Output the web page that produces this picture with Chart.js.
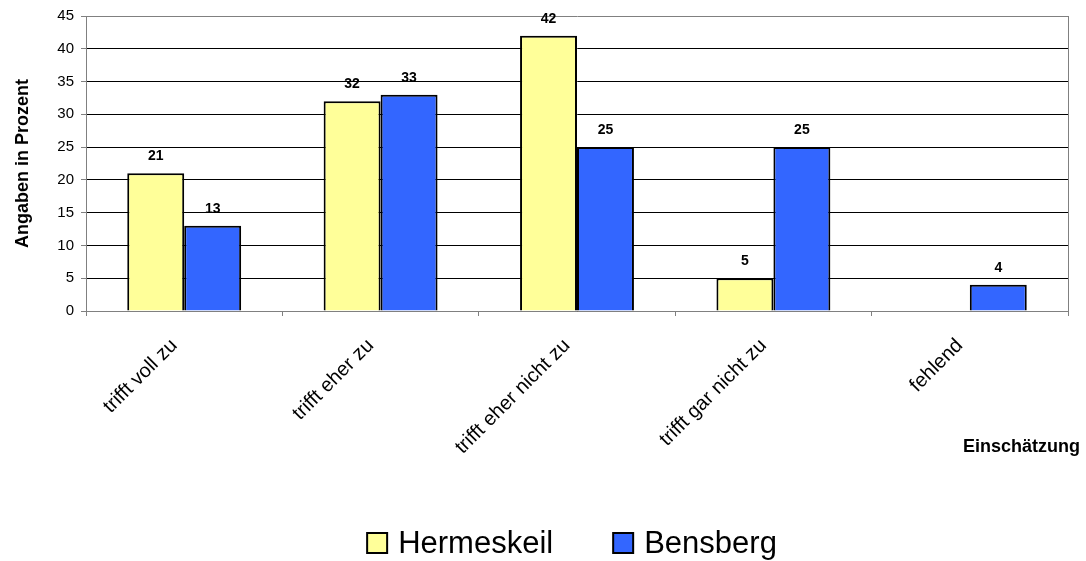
<!DOCTYPE html>
<html>
<head>
<meta charset="utf-8">
<script src="https://cdn.jsdelivr.net/npm/chart.js@4.4.1/dist/chart.umd.min.js"></script>
<style>
  body { margin: 0; background: #fff; }
  #wrap { width: 1086px; height: 561px; }
</style>
</head>
<body>
<div id="wrap"><canvas id="myChart" width="1086" height="561"></canvas></div>
<script>
// answers per category, in percent
const categories = ['trifft voll zu', 'trifft eher zu', 'trifft eher nicht zu', 'trifft gar nicht zu', 'fehlend'];
const hermeskeil = [21, 32, 42, 5, null];
const bensberg = [13, 33, 25, 25, 4];
const yTicks = [0, 5, 10, 15, 20, 25, 30, 35, 40, 45];

const FONT = 'Arial, "Liberation Sans", sans-serif';

// numbers above each bar
const valueLabels = {
  id: 'valueLabels',
  afterDatasetsDraw(chart) {
    const ctx = chart.ctx;
    ctx.save();
    ctx.font = 'bold 14px ' + FONT;
    ctx.fillStyle = '#000';
    ctx.textAlign = 'center';
    ctx.textBaseline = 'middle';
    chart.data.datasets.forEach((ds, i) => {
      chart.getDatasetMeta(i).data.forEach((bar, j) => {
        if (ds.data[j] == null) return;
        ctx.fillText(ds.data[j], bar.x, bar.y - 17);
      });
    });
    ctx.restore();
  }
};

// right frame line, x axis title and the legend row at the bottom
const extras = {
  id: 'extras',
  afterDraw(chart) {
    const ctx = chart.ctx;
    const area = chart.chartArea;
    ctx.save();
    ctx.strokeStyle = '#808080';
    ctx.lineWidth = 1;
    ctx.beginPath();
    ctx.moveTo(Math.round(area.right) + 0.5, area.top);
    ctx.lineTo(Math.round(area.right) + 0.5, area.bottom);
    ctx.stroke();

    ctx.fillStyle = '#000';
    ctx.font = 'bold 18px ' + FONT;
    ctx.textAlign = 'right';
    ctx.textBaseline = 'middle';
    ctx.fillText('Einschätzung', area.right + 12, area.bottom + 136);

    ctx.font = '31px ' + FONT;
    ctx.textAlign = 'left';
    const box = 20, gap = 11, between = 60;
    const items = chart.data.datasets.map(ds => ({
      text: ds.label, color: ds.backgroundColor, w: box + gap + ctx.measureText(ds.label).width
    }));
    const total = items.reduce((s, it) => s + it.w, 0) + between * (items.length - 1);
    let x = (area.left + area.right) / 2 - 5 - total / 2;
    const yMid = chart.height - 18;
    items.forEach(it => {
      ctx.fillStyle = it.color;
      ctx.fillRect(x, yMid - box / 2, box, box);
      ctx.strokeStyle = '#000';
      ctx.lineWidth = 2;
      ctx.strokeRect(x, yMid - box / 2, box, box);
      ctx.fillStyle = '#000';
      ctx.fillText(it.text, x + box + gap, yMid + 1);
      x += it.w + between;
    });
    ctx.restore();
  }
};

function initChart() {
  const ctx = document.getElementById('myChart');
  return new Chart(ctx, {
    type: 'bar',
    data: {
      labels: categories,
      datasets: [{
        label: 'Hermeskeil',
        data: hermeskeil,
        backgroundColor: '#FFFF99',
        borderColor: '#000',
        borderWidth: 2
      }, {
        label: 'Bensberg',
        data: bensberg,
        backgroundColor: '#3366FF',
        borderColor: '#000',
        borderWidth: 2
      }]
    },
    options: {
      responsive: false,
      animation: false,
      devicePixelRatio: 1,
      categoryPercentage: 0.58,
      barPercentage: 1.0,
      layout: { padding: { top: 16, right: 18, left: 0, bottom: 0 } },
      plugins: {
        legend: { display: false },
        tooltip: { enabled: false }
      },
      scales: {
        x: {
          afterFit(scale) { scale.height = 250; },
          grid: {
            offset: true,
            drawOnChartArea: false,
            drawTicks: true,
            tickLength: 5,
            tickColor: '#808080'
          },
          border: { color: '#808080', width: 1 },
          ticks: {
            autoSkip: false,
            minRotation: 45,
            maxRotation: 45,
            padding: 18,
            labelOffset: -10,
            color: '#000',
            font: { family: FONT, size: 20 }
          }
        },
        y: {
          min: yTicks[0],
          max: yTicks[yTicks.length - 1],
          afterFit(scale) { scale.width = 86; },
          afterBuildTicks(scale) { scale.ticks = yTicks.map(v => ({ value: v })); },
          grid: {
            color: c => (c.tick && c.tick.value === yTicks[yTicks.length - 1]) ? '#808080' : '#000',
            tickColor: '#808080',
            tickLength: 5,
            lineWidth: 1
          },
          border: { color: '#808080', width: 1 },
          ticks: {
            padding: 7,
            color: '#000',
            font: { family: FONT, size: 15 }
          },
          title: {
            display: true,
            text: 'Angaben in Prozent',
            color: '#000',
            padding: { top: 12, bottom: 0 },
            font: { family: FONT, size: 18, weight: 'bold' }
          }
        }
      }
    },
    plugins: [valueLabels, extras]
  });
}

document.addEventListener('DOMContentLoaded', () => initChart());
</script>
</body>
</html>
